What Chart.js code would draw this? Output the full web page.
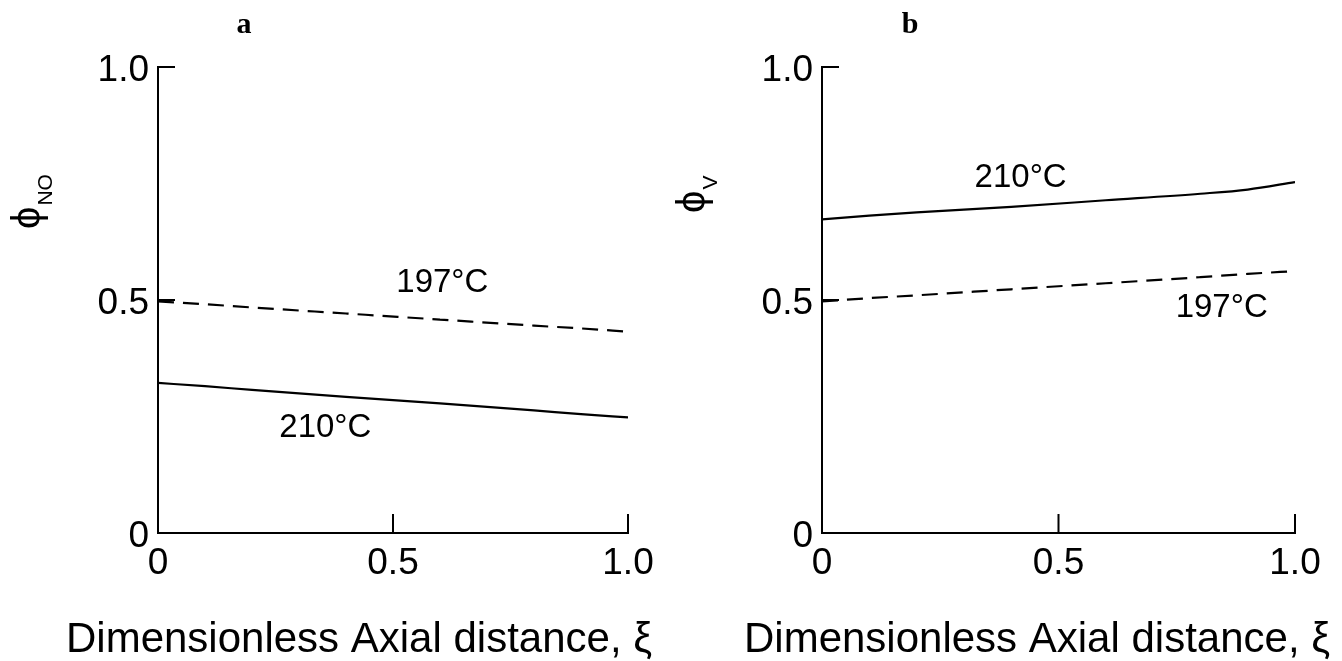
<!DOCTYPE html>
<html>
<head>
<meta charset="utf-8">
<script src="https://cdn.jsdelivr.net/npm/chart.js@4/dist/chart.umd.min.js"></script>
<style>
  body { margin: 0; background: #fff; }
  .panel { position: absolute; top: 0; width: 671px; height: 661px; }
</style>
</head>
<body>
<div class="panel" style="left:0"><canvas id="chartA" width="671" height="661"></canvas></div>
<div class="panel" style="left:671px"><canvas id="chartB" width="671" height="661"></canvas></div>
<script>
// dimensionless axial distance
const xi = [0, 0.1, 0.2, 0.4, 0.6, 0.8, 0.9, 1.0];

// panel a: phi_NO
const aNo197 = [0.497, 0.491, 0.484, 0.471, 0.458, 0.445, 0.439, 0.432];
const aNo210 = [0.322, 0.315, 0.307, 0.292, 0.278, 0.263, 0.255, 0.248];

// panel b: phi_V
const bV210 = [0.673, 0.681, 0.688, 0.700, 0.714, 0.728, 0.737, 0.753];
const bV197 = [0.497, 0.504, 0.510, 0.523, 0.536, 0.549, 0.556, 0.562];

const tickValues = [0, 0.5, 1.0];
const tickLabels = ['0', '0.5', '1.0'];
const seriesNames = ['197°C', '210°C'];

const FONT = '"Liberation Sans", Arial, sans-serif';

function pts(ys) {
  return xi.map((x, i) => ({ x: x, y: ys[i] }));
}

function labelFor(v) {
  const i = tickValues.findIndex(t => Math.abs(t - v) < 1e-6);
  return i >= 0 ? tickLabels[i] : '';
}

// inward ticks, axis titles, curve labels
function decorPlugin(opts) {
  return {
    id: 'decor',
    afterDraw(chart) {
      const ctx = chart.ctx;
      const xs = chart.scales.x, ys = chart.scales.y;
      const left = chart.chartArea.left, bottom = chart.chartArea.bottom;
      ctx.save();
      ctx.strokeStyle = '#000';
      ctx.lineWidth = 2;
      ctx.beginPath();
      [0.5, 1.0].forEach(v => {
        const py = ys.getPixelForValue(v);
        ctx.moveTo(left, py); ctx.lineTo(left + 17, py);
        const px = xs.getPixelForValue(v);
        ctx.moveTo(px, bottom); ctx.lineTo(px, bottom - 19);
      });
      ctx.stroke();

      // panel letter
      ctx.fillStyle = '#000';
      ctx.font = 'bold 30px "Liberation Serif", serif';
      ctx.textAlign = 'center';
      ctx.textBaseline = 'alphabetic';
      ctx.fillText(opts.letter, opts.letterX, 33);

      // x title
      ctx.font = '42px ' + FONT;
      ctx.textAlign = 'left';
      ctx.fillText('Dimensionless Axial distance, ξ', opts.titleX, 652);

      // y title with subscript, rotated
      ctx.save();
      ctx.translate(opts.yTitleX, opts.yTitleY);
      ctx.rotate(-Math.PI / 2);
      ctx.textAlign = 'left';
      ctx.font = '40px ' + FONT;
      ctx.fillText('ϕ', 0, 0);
      const w = ctx.measureText('ϕ').width;
      ctx.font = '21px ' + FONT;
      ctx.fillText(opts.sub, w + 1, 12);
      ctx.restore();

      // curve labels
      ctx.font = '33px ' + FONT;
      ctx.textAlign = 'center';
      ctx.textBaseline = 'middle';
      opts.notes.forEach(n => {
        ctx.fillText(n.text, xs.getPixelForValue(n.x), ys.getPixelForValue(n.y));
      });
      ctx.restore();
    }
  };
}

function makeChart(id, sets, opts) {
  return new Chart(document.getElementById(id), {
    type: 'line',
    data: {
      datasets: sets.map(s => ({
        label: s.label,
        data: pts(s.data),
        borderColor: '#000',
        borderWidth: 2.2,
        borderDash: s.dash,
        pointRadius: 0,
        tension: s.tension || 0,
        cubicInterpolationMode: 'monotone',
        fill: false
      }))
    },
    options: {
      responsive: false,
      animation: false,
      layout: { padding: { top: 67, right: opts.padRight, left: 0, bottom: 0 } },
      plugins: { legend: { display: false }, tooltip: { enabled: false } },
      scales: {
        x: {
          type: 'linear', min: 0, max: 1,
          afterFit: s => { s.height = 128; },
          afterBuildTicks: s => { s.ticks = tickValues.map(v => ({ value: v })); },
          grid: { display: false, drawTicks: false },
          border: { color: '#000', width: 2 },
          ticks: {
            color: '#000', padding: 9,
            font: { family: FONT, size: 37 },
            callback: v => labelFor(v)
          }
        },
        y: {
          type: 'linear', min: 0, max: 1,
          afterFit: s => { s.width = opts.axisLeft; },
          afterBuildTicks: s => { s.ticks = tickValues.map(v => ({ value: v })); },
          grid: { display: false, drawTicks: false },
          border: { color: '#000', width: 2 },
          ticks: {
            color: '#000', padding: 9, labelOffset: 4,
            font: { family: FONT, size: 37 },
            callback: v => labelFor(v)
          }
        }
      }
    },
    plugins: [decorPlugin(opts)]
  });
}

makeChart('chartA', [
  { label: seriesNames[0], data: aNo197, dash: [16, 9] },
  { label: seriesNames[1], data: aNo210, dash: [] }
], {
  axisLeft: 158, padRight: 43, letter: 'a', letterX: 244, titleX: 66,
  yTitleX: 40, yTitleY: 229, sub: 'NO',
  notes: [
    { text: seriesNames[0], x: 0.605, y: 0.536 },
    { text: seriesNames[1], x: 0.356, y: 0.226 }
  ]
});

makeChart('chartB', [
  { label: seriesNames[1], data: bV210, dash: [], tension: 0.4 },
  { label: seriesNames[0], data: bV197, dash: [16, 9] }
], {
  axisLeft: 151, padRight: 47, letter: 'b', letterX: 239, titleX: 73,
  yTitleX: 34, yTitleY: 213, sub: 'V',
  notes: [
    { text: seriesNames[1], x: 0.42, y: 0.763 },
    { text: seriesNames[0], x: 0.845, y: 0.482 }
  ]
});
</script>
</body>
</html>
